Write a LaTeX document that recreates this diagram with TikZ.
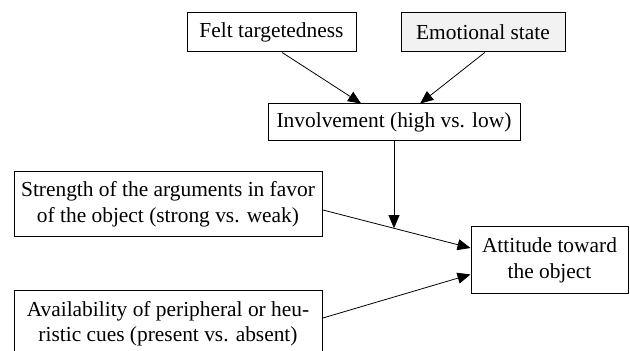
\documentclass[tikz,border=0pt]{standalone}
\usepackage{fontspec}
\setmainfont{Liberation Serif}
\usetikzlibrary{arrows.meta}

\tikzset{
  factor/.style={draw, line width=1pt, inner sep=0pt, align=center,
    font=\fontsize{21.4}{25.5}\selectfont},
  link/.style={-{Triangle[length=13pt,width=11pt]}, line width=0.8pt}
}

\begin{document}
\begin{tikzpicture}[x=1pt, y=1pt]

  \useasboundingbox (0,0) rectangle (630,351);

  % boxes
  \node[factor, minimum width=169, minimum height=39] (felt) at (271.5,318.5) {Felt targetedness};
  \node[factor, fill=black!5, minimum width=164, minimum height=39] (emotion) at (483,318.5) {Emotional state};
  \node[factor, minimum width=252, minimum height=37] (involve) at (394,228.5) {Involvement (high vs. low)};
  \node[factor, minimum width=308, minimum height=65] (strength) at (168,146.5)
    {Strength of the arguments in favor\\of the object (strong vs. weak)};
  \node[factor, minimum width=308, minimum height=65] (cues) at (168,27.5)
    {Availability of peripheral or heu-\\ristic cues (present vs. absent)};
  \node[factor, minimum width=157, minimum height=67] (attitude) at (549.5,90.5)
    {Attitude toward\\the object};

  % arrows
  \draw[link] (felt.-62) -- (involve.150);
  \draw[link] (emotion.-85) -- (involve.36);
  \draw[link] (strength.-2) -- coordinate[pos=0.48] (moderate) (attitude.171);
  \draw[link] (cues.2) -- (attitude.190);
  \draw[link] (involve.south) -- (involve.south |- moderate);
\end{tikzpicture}
\end{document}
